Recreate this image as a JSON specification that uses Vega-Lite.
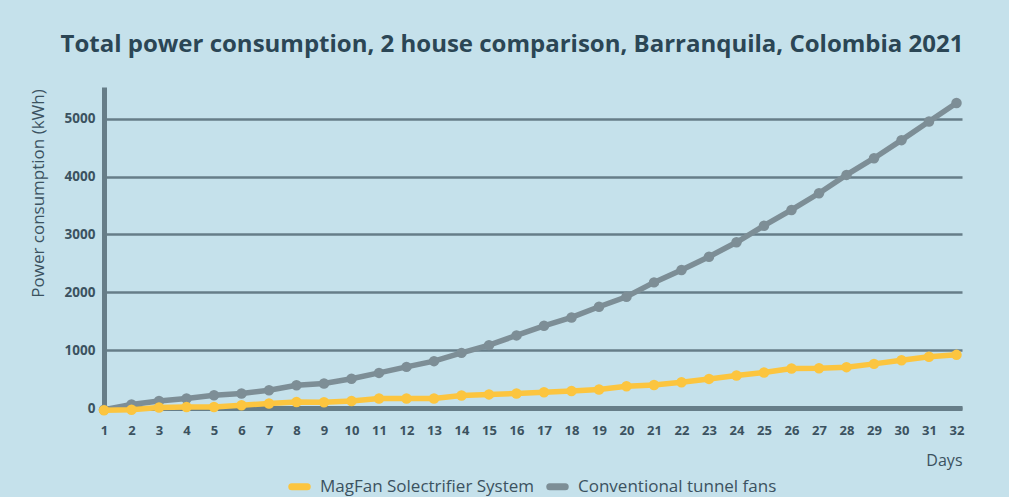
{
  "$schema": "https://vega.github.io/schema/vega-lite/v6.json",
  "autosize": {"type": "none"},
  "width": 858,
  "height": 321,
  "padding": {"left": 104, "top": 87, "right": 47, "bottom": 89},
  "background": "#c5e1eb",
  "title": {
    "text": "Total power consumption, 2 house comparison, Barranquila, Colombia 2021",
    "anchor": "middle",
    "frame": "group",
    "dx": -21,
    "offset": 30,
    "font": "Open Sans",
    "fontSize": 24,
    "fontWeight": "bold",
    "color": "#2b4655"
  },
  "config": {
    "view": {"stroke": null},
    "font": "Open Sans",
    "legend": {
      "orient": "none",
      "legendX": 184,
      "legendY": 388,
      "direction": "horizontal",
      "title": null,
      "symbolType": "stroke",
      "symbolStrokeWidth": 7,
      "symbolSize": 240,
      "labelFont": "Open Sans",
      "labelFontSize": 17,
      "labelColor": "#3b5260",
      "labelLimit": 0,
      "columnPadding": 0,
      "labelOffset": 9
    }
  },
  "data": {
    "values": [
      {"day": 1, "series": "Conventional tunnel fans", "kwh": -30},
      {"day": 2, "series": "Conventional tunnel fans", "kwh": 60},
      {"day": 3, "series": "Conventional tunnel fans", "kwh": 122},
      {"day": 4, "series": "Conventional tunnel fans", "kwh": 164},
      {"day": 5, "series": "Conventional tunnel fans", "kwh": 221},
      {"day": 6, "series": "Conventional tunnel fans", "kwh": 250},
      {"day": 7, "series": "Conventional tunnel fans", "kwh": 307},
      {"day": 8, "series": "Conventional tunnel fans", "kwh": 394},
      {"day": 9, "series": "Conventional tunnel fans", "kwh": 424},
      {"day": 10, "series": "Conventional tunnel fans", "kwh": 506},
      {"day": 11, "series": "Conventional tunnel fans", "kwh": 607},
      {"day": 12, "series": "Conventional tunnel fans", "kwh": 711},
      {"day": 13, "series": "Conventional tunnel fans", "kwh": 810},
      {"day": 14, "series": "Conventional tunnel fans", "kwh": 953},
      {"day": 15, "series": "Conventional tunnel fans", "kwh": 1087},
      {"day": 16, "series": "Conventional tunnel fans", "kwh": 1255},
      {"day": 17, "series": "Conventional tunnel fans", "kwh": 1421},
      {"day": 18, "series": "Conventional tunnel fans", "kwh": 1566},
      {"day": 19, "series": "Conventional tunnel fans", "kwh": 1750},
      {"day": 20, "series": "Conventional tunnel fans", "kwh": 1923},
      {"day": 21, "series": "Conventional tunnel fans", "kwh": 2172},
      {"day": 22, "series": "Conventional tunnel fans", "kwh": 2385},
      {"day": 23, "series": "Conventional tunnel fans", "kwh": 2616},
      {"day": 24, "series": "Conventional tunnel fans", "kwh": 2865},
      {"day": 25, "series": "Conventional tunnel fans", "kwh": 3152},
      {"day": 26, "series": "Conventional tunnel fans", "kwh": 3424},
      {"day": 27, "series": "Conventional tunnel fans", "kwh": 3713},
      {"day": 28, "series": "Conventional tunnel fans", "kwh": 4030},
      {"day": 29, "series": "Conventional tunnel fans", "kwh": 4319},
      {"day": 30, "series": "Conventional tunnel fans", "kwh": 4631},
      {"day": 31, "series": "Conventional tunnel fans", "kwh": 4953},
      {"day": 32, "series": "Conventional tunnel fans", "kwh": 5272},
      {"day": 1, "series": "MagFan Solectrifier System", "kwh": -40},
      {"day": 2, "series": "MagFan Solectrifier System", "kwh": -30},
      {"day": 3, "series": "MagFan Solectrifier System", "kwh": 8},
      {"day": 4, "series": "MagFan Solectrifier System", "kwh": 18},
      {"day": 5, "series": "MagFan Solectrifier System", "kwh": 18},
      {"day": 6, "series": "MagFan Solectrifier System", "kwh": 48},
      {"day": 7, "series": "MagFan Solectrifier System", "kwh": 77},
      {"day": 8, "series": "MagFan Solectrifier System", "kwh": 105},
      {"day": 9, "series": "MagFan Solectrifier System", "kwh": 100},
      {"day": 10, "series": "MagFan Solectrifier System", "kwh": 122},
      {"day": 11, "series": "MagFan Solectrifier System", "kwh": 164},
      {"day": 12, "series": "MagFan Solectrifier System", "kwh": 164},
      {"day": 13, "series": "MagFan Solectrifier System", "kwh": 164},
      {"day": 14, "series": "MagFan Solectrifier System", "kwh": 216},
      {"day": 15, "series": "MagFan Solectrifier System", "kwh": 235},
      {"day": 16, "series": "MagFan Solectrifier System", "kwh": 250},
      {"day": 17, "series": "MagFan Solectrifier System", "kwh": 273},
      {"day": 18, "series": "MagFan Solectrifier System", "kwh": 295},
      {"day": 19, "series": "MagFan Solectrifier System", "kwh": 320},
      {"day": 20, "series": "MagFan Solectrifier System", "kwh": 377},
      {"day": 21, "series": "MagFan Solectrifier System", "kwh": 399},
      {"day": 22, "series": "MagFan Solectrifier System", "kwh": 446},
      {"day": 23, "series": "MagFan Solectrifier System", "kwh": 503},
      {"day": 24, "series": "MagFan Solectrifier System", "kwh": 562},
      {"day": 25, "series": "MagFan Solectrifier System", "kwh": 614},
      {"day": 26, "series": "MagFan Solectrifier System", "kwh": 683},
      {"day": 27, "series": "MagFan Solectrifier System", "kwh": 688},
      {"day": 28, "series": "MagFan Solectrifier System", "kwh": 706},
      {"day": 29, "series": "MagFan Solectrifier System", "kwh": 763},
      {"day": 30, "series": "MagFan Solectrifier System", "kwh": 827},
      {"day": 31, "series": "MagFan Solectrifier System", "kwh": 885},
      {"day": 32, "series": "MagFan Solectrifier System", "kwh": 919}
    ]
  },
  "encoding": {
    "x": {
      "field": "day",
      "type": "quantitative",
      "scale": {"domain": [1, 32.2], "nice": false, "zero": false},
      "axis": {
        "values": [1,2,3,4,5,6,7,8,9,10,11,12,13,14,15,16,17,18,19,20,21,22,23,24,25,26,27,28,29,30,31,32],
        "format": "d",
        "grid": false,
        "ticks": false,
        "domainColor": "#667d88",
        "domainWidth": 5,
        "labelFont": "Open Sans",
        "labelFontSize": 13,
        "labelFontWeight": "bold",
        "labelColor": "#3b5260",
        "labelPadding": 16,
        "labelFlush": false,
        "title": "Days",
        "titleFont": "Open Sans",
        "titleFontSize": 16,
        "titleFontWeight": "normal",
        "titleColor": "#3b5260",
        "titleAnchor": "end",
        "titleAlign": "right",
        "titleBaseline": "middle",
        "titleX": 858,
        "titleY": 52
      }
    },
    "y": {
      "field": "kwh",
      "type": "quantitative",
      "scale": {"domain": [0, 5550], "nice": false},
      "axis": {
        "values": [0, 1000, 2000, 3000, 4000, 5000],
        "format": "d",
        "grid": true,
        "gridColor": "#667d88",
        "gridWidth": 2.5,
        "gridOpacity": 1,
        "ticks": false,
        "domainColor": "#667d88",
        "domainWidth": 5,
        "labelFont": "Open Sans",
        "labelFontSize": 13.5,
        "labelFontWeight": "bold",
        "labelColor": "#3b5260",
        "labelPadding": 9,
        "title": "Power consumption (kWh)",
        "titleFont": "Open Sans",
        "titleFontSize": 17,
        "titleFontWeight": "normal",
        "titleColor": "#3b5260",
        "titleAngle": 270,
        "titleAlign": "center",
        "titleBaseline": "middle",
        "titleX": -66,
        "titleY": 106
      }
    },
    "color": {
      "field": "series",
      "type": "nominal",
      "scale": {
        "domain": ["MagFan Solectrifier System", "Conventional tunnel fans"],
        "range": ["#fcc53f", "#7d8e96"]
      },
      "legend": {
        "symbolType": "stroke",
        "symbolStrokeWidth": 7,
        "symbolSize": 240,
        "labelLimit": 0,
        "encode": {"symbols": {"update": {"strokeCap": {"value": "round"}}}}
      }
    }
  },
  "layer": [
    {
      "transform": [{"filter": "datum.series === 'Conventional tunnel fans'"}],
      "mark": {"type": "line", "strokeWidth": 5.5}
    },
    {
      "transform": [{"filter": "datum.series === 'Conventional tunnel fans'"}],
      "mark": {"type": "point", "shape": "circle", "filled": true, "opacity": 1, "size": 110}
    },
    {
      "transform": [{"filter": "datum.series === 'MagFan Solectrifier System'"}],
      "mark": {"type": "line", "strokeWidth": 5.5}
    },
    {
      "transform": [{"filter": "datum.series === 'MagFan Solectrifier System'"}],
      "mark": {"type": "point", "shape": "circle", "filled": true, "opacity": 1, "size": 110}
    }
  ]
}
